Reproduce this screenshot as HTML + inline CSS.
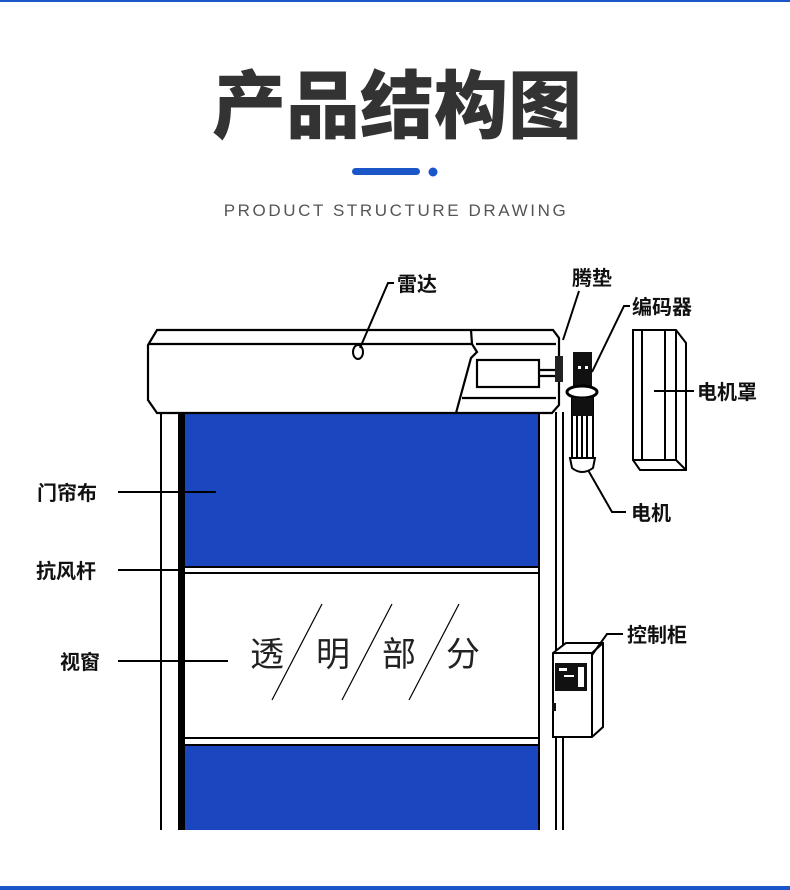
<!DOCTYPE html>
<html><head><meta charset="utf-8"><style>
html,body{margin:0;padding:0;background:#fff;}
body{width:790px;height:890px;overflow:hidden;position:relative;font-family:"Liberation Sans","Noto Sans CJK SC",sans-serif;}
</style></head><body>
<svg width="790" height="890" viewBox="0 0 790 890" xmlns="http://www.w3.org/2000/svg" style="position:absolute;left:0;top:0">
<rect x="0" y="0" width="790" height="2" fill="#1a56c8"/>
<rect x="0" y="886" width="790" height="4" fill="#1a56c8"/>
<text x="397" y="132" text-anchor="middle" font-family="Noto Sans CJK SC,sans-serif" font-weight="900" font-size="74" fill="#333">产品结构图</text>
<rect x="352" y="168" width="68" height="7" rx="3.5" fill="#1a56c8"/>
<circle cx="433" cy="172" r="4.5" fill="#1a56c8"/>
<text x="396" y="216" text-anchor="middle" font-family="Liberation Sans,sans-serif" font-size="17" letter-spacing="2.6" fill="#555">PRODUCT STRUCTURE DRAWING</text>

<g stroke="#000" fill="none" stroke-width="2">
<line x1="161" y1="412" x2="161" y2="830"/>
<line x1="556" y1="412" x2="556" y2="830"/>
<line x1="563" y1="412" x2="563" y2="830"/>
</g>
<rect x="178" y="412" width="7" height="418" fill="#000"/>
<rect x="185" y="413" width="353" height="153" fill="#1a47c0"/>
<rect x="185" y="745" width="353" height="85" fill="#1a47c0"/>
<g stroke="#000" stroke-width="2" fill="none">
<line x1="185" y1="567" x2="539" y2="567"/>
<line x1="185" y1="573" x2="539" y2="573"/>
<line x1="185" y1="738" x2="539" y2="738"/>
<line x1="185" y1="745" x2="539" y2="745"/>
<line x1="539" y1="412" x2="539" y2="830"/>
</g>
<g stroke="#000" stroke-width="2.2" fill="#fff">
<path d="M157 330 L553 330 L559 338 L559 405 L552 413 L157 413 L148 400 L148 345 Z"/>
<line x1="148" y1="344" x2="472" y2="344"/>
<path d="M472 344 L471 330 M472 344 L477 352 L471 358 L456 413" fill="none"/>
<line x1="476" y1="344" x2="556" y2="344" />
<rect x="477" y="360" width="62" height="27"/>
<line x1="539" y1="370" x2="556" y2="370"/>
<line x1="539" y1="376" x2="556" y2="376"/>
<line x1="462" y1="398" x2="556" y2="398"/>
</g>
<ellipse cx="358" cy="352" rx="5" ry="7" fill="#fff" stroke="#000" stroke-width="2"/>
<rect x="555" y="356" width="8" height="26" fill="#222"/>
<rect x="573" y="352" width="19" height="34" fill="#111"/>
<rect x="578" y="366" width="3" height="3" fill="#fff"/><rect x="585" y="366" width="3" height="3" fill="#fff"/>
<ellipse cx="582" cy="392" rx="15" ry="6" fill="#fff" stroke="#000" stroke-width="3"/>
<rect x="572" y="398" width="21" height="62" fill="#fff" stroke="#000" stroke-width="2"/>
<g stroke="#000" stroke-width="2"><line x1="577" y1="398" x2="577" y2="458"/><line x1="582" y1="398" x2="582" y2="458"/><line x1="587" y1="398" x2="587" y2="458"/></g>
<rect x="572" y="398" width="21" height="18" fill="#111"/>
<path d="M570 458 L595 458 L593 468 Q582 476 572 468 Z" fill="#fff" stroke="#000" stroke-width="2"/>
<g stroke="#000" stroke-width="2" fill="#fff">
<path d="M633 330 L676 330 L686 343 L686 470 L640 470 L633 460 Z"/>
<line x1="676" y1="330" x2="676" y2="460"/>
<line x1="633" y1="460" x2="676" y2="460"/>
<line x1="676" y1="460" x2="686" y2="470"/>
<line x1="642" y1="330" x2="642" y2="460"/>
<line x1="665" y1="330" x2="665" y2="460"/>
</g>
<g stroke="#000" stroke-width="2" fill="#fff">
<path d="M553 653 L566 643 L603 643 L603 727 L592 737 L553 737 Z"/>
<path d="M553 653 L592 653 L592 737 M592 653 L603 643" fill="none"/>
</g>
<rect x="555" y="663" width="32" height="28" fill="#111"/>
<rect x="559" y="668" width="8" height="3" fill="#fff"/><rect x="564" y="675" width="10" height="2" fill="#fff"/>
<rect x="578" y="667" width="6" height="20" fill="#fff"/>
<rect x="552" y="703" width="4" height="8" fill="#111"/>

<g stroke="#000" stroke-width="2" fill="none">
<path d="M394 283 L388 283 L360 348"/>
<path d="M579 291 L563 340"/>
<path d="M630 306 L624 306 L592 372"/>
<line x1="654" y1="391" x2="694" y2="391"/>
<path d="M626 512 L612 512 L588 470"/>
<path d="M623 634 L607 634 L592 655"/>
<line x1="118" y1="492" x2="216" y2="492"/>
<line x1="118" y1="570" x2="180" y2="570"/>
<line x1="118" y1="661" x2="228" y2="661"/>
</g>
<g stroke="#000" stroke-width="1.2">
<line x1="322" y1="604" x2="272" y2="700"/>
<line x1="392" y1="604" x2="342" y2="700"/>
<line x1="459" y1="604" x2="409" y2="700"/>
</g>
<g font-family="Noto Sans CJK SC,sans-serif" font-size="34" fill="#222">
<text x="250" y="666">透</text><text x="316" y="666">明</text><text x="382" y="666">部</text><text x="446" y="666">分</text>
</g>
<g font-family="Noto Sans CJK SC,sans-serif" font-size="20" font-weight="700" fill="#111">
<text x="397" y="291">雷达</text>
<text x="572" y="285">腾垫</text>
<text x="632" y="314">编码器</text>
<text x="697" y="399">电机罩</text>
<text x="631" y="520">电机</text>
<text x="627" y="642">控制柜</text>
<text x="37" y="500">门帘布</text>
<text x="36" y="578">抗风杆</text>
<text x="60" y="669">视窗</text>
</g>
</svg>
</body></html>
